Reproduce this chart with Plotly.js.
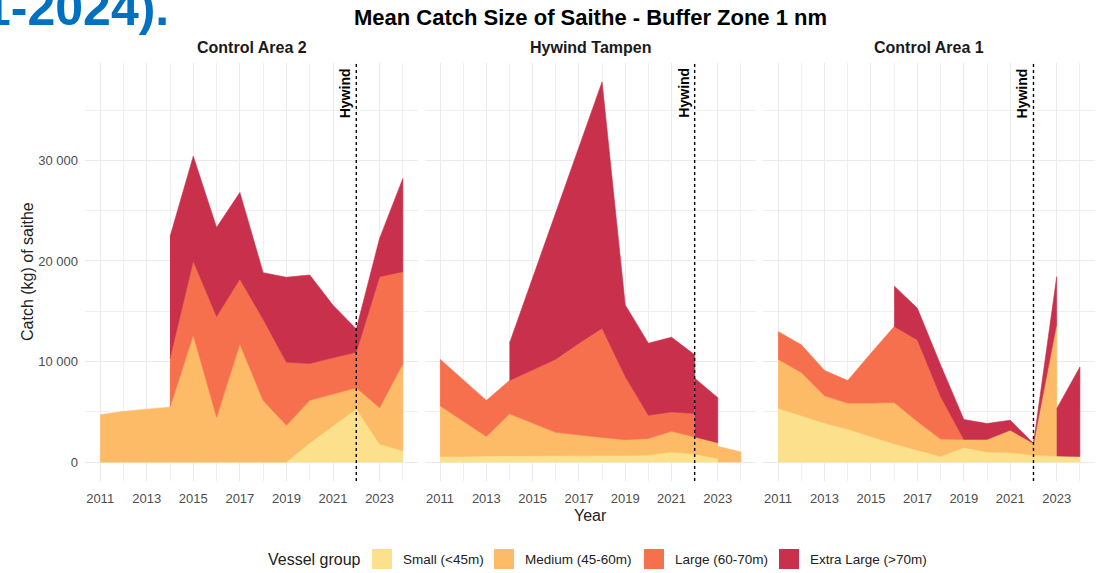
<!DOCTYPE html>
<html>
<head>
<meta charset="utf-8">
<script src="https://cdn.plot.ly/plotly-3.0.1.min.js"></script>
<style>
  html, body { margin: 0; padding: 0; background: #ffffff; }
  #chart { width: 1102px; height: 573px; }
</style>
</head>
<body>
<div id="chart"></div>
<script>
// ---------------- DATA ----------------
const years = [2011, 2012, 2013, 2014, 2015, 2016, 2017, 2018, 2019, 2020, 2021, 2022, 2023, 2024];
const panelNames = ["Control Area 2", "Hywind Tampen", "Control Area 1"];
const groupNames = ["Small (<45m)", "Medium (45-60m)", "Large (60-70m)", "Extra Large (>70m)"];
const groupColors = ["#FDE08C", "#FDBA67", "#F6704E", "#C8304B"];

// Control Area 2
const ca2Small  = [0, 0, 0, 0, 0, 0, 0, 0, 0, 1900, 3650, 5310, 1780, 1120];
const ca2Medium = [4700, 5030, 5260, 5460, 12650, 4470, 11750, 6130, 3660, 4240, 3150, 2080, 3630, 8650];
const ca2Large  = [null, null, null, 4870, 7350, 10000, 6460, 8070, 6270, 3660, 3570, 3530, 13030, 9170];
const ca2XL     = [null, null, null, 12090, 10430, 8870, 8610, 4640, 8450, 8810, 5230, 2310, 3810, 9270];

// Hywind Tampen
const htSmall  = [560, 560, 600, 600, 600, 600, 600, 650, 650, 700, 1000, 800, 350, null];
const htMedium = [5040, 3480, 1950, 4200, 3270, 2350, 2120, 1800, 1570, 1650, 2050, 1700, 1560, 1000];
const htLarge  = [4630, 4140, 3580, 3310, 5300, 7280, 9100, 10860, 6290, 2300, 1930, 2320, null, null];
const htXL     = [null, null, null, 3710, 9110, 14540, 19410, 24510, 7120, 7170, 7440, 5840, 4490, null];

// Control Area 1
const ca1Small  = [5360, 4600, 3870, 3280, 2550, 1820, 1160, 560, 1450, 1000, 950, 700, 600, 550];
const ca1Medium = [4870, 4310, 2720, 2580, 3310, 4110, 2880, 1720, 800, 1250, 2220, 1150, 13130, null];
const ca1Large  = [2750, 2750, 2520, 2250, 4970, 7550, 8110, 4240, 0, null, null, null, null, null];
const ca1XL     = [null, null, null, null, null, 4040, 3150, 3120, 1980, 1580, 990, 0, 4700, 8900];

const hywindYear = 2022;
const xTickVals = [2011, 2013, 2015, 2017, 2019, 2021, 2023];
const xTickText = ["2011", "2013", "2015", "2017", "2019", "2021", "2023"];
const yTickVals = [0, 10000, 20000, 30000];
const yTickText = ["0", "10 000", "20 000", "30 000"];

const panels = [
  [ca2Small, ca2Medium, ca2Large, ca2XL],
  [htSmall, htMedium, htLarge, htXL],
  [ca1Small, ca1Medium, ca1Large, ca1XL]
];

// ---------------- LAYOUT HELPERS ----------------
const W = 1102, H = 573;
const px = v => v / W;
const py = v => 1 - v / H;
const FONT = "Liberation Sans, Arial, Helvetica, sans-serif";
const panelPx = [[85, 418], [425, 756], [763, 1095]];
const plotTop = 63, plotBottom = 481;

// stacked polygons: a group's base at an interval only counts lower groups present at both ends
function polygonsFor(groups, gi) {
  const v = groups[gi];
  const polys = [];
  let cur = null;
  const n = years.length;
  function flush() {
    if (cur) { polys.push(cur); cur = null; }
  }
  for (let i = 0; i < n - 1; i++) {
    if (v[i] == null || v[i + 1] == null) { flush(); continue; }
    let b0 = 0, b1 = 0;
    for (let h = 0; h < gi; h++) {
      if (groups[h][i] != null && groups[h][i + 1] != null) {
        b0 += groups[h][i];
        b1 += groups[h][i + 1];
      }
    }
    const t0 = b0 + v[i], t1 = b1 + v[i + 1];
    if (cur && cur.last === i && Math.abs(cur.lb - b0) < 1e-6 && Math.abs(cur.lt - t0) < 1e-6) {
      cur.x.push(years[i + 1]); cur.top.push(t1); cur.bot.push(b1);
    } else {
      flush();
      cur = { x: [years[i], years[i + 1]], top: [t0, t1], bot: [b0, b1] };
    }
    cur.last = i + 1; cur.lb = b1; cur.lt = t1;
  }
  flush();
  return polys;
}

const traces = [];
panels.forEach((groups, p) => {
  const xa = p === 0 ? "x" : "x" + (p + 1);
  const ya = p === 0 ? "y" : "y" + (p + 1);
  groups.forEach((g, gi) => {
    polygonsFor(groups, gi).forEach(poly => {
      const xs = poly.x.concat(poly.x.slice().reverse());
      const ys = poly.top.concat(poly.bot.slice().reverse());
      traces.push({
        type: "scatter", mode: "lines", x: xs, y: ys,
        xaxis: xa, yaxis: ya, fill: "toself",
        fillcolor: groupColors[gi],
        line: { color: groupColors[gi], width: 0.6 },
        hoverinfo: "skip", showlegend: false
      });
    });
  });
});

const gridMajor = "#EBEBEB";
const gridMinor = "#F0F0F0";

function xAxis(p) {
  return {
    domain: [px(panelPx[p][0]), px(panelPx[p][1])],
    range: [2010.35, 2024.65],
    anchor: p === 0 ? "y" : "y" + (p + 1),
    tickmode: "array", tickvals: xTickVals, ticktext: xTickText,
    showgrid: true, gridcolor: gridMajor, gridwidth: 1,
    minor: { tickmode: "linear", tick0: 2011, dtick: 1, showgrid: true, gridcolor: gridMinor, gridwidth: 1, ticks: "" },
    zeroline: false, showline: false, ticks: "",
    ticklabelstandoff: 8,
    tickfont: { family: FONT, size: 13, color: "#4D4D4D" },
    automargin: false, fixedrange: true
  };
}
function yAxis(p) {
  return {
    domain: [py(plotBottom), py(plotTop)],
    range: [-1890, 39700],
    anchor: p === 0 ? "x" : "x" + (p + 1),
    tickmode: "array", tickvals: yTickVals, ticktext: yTickText,
    showticklabels: p === 0,
    showgrid: true, gridcolor: gridMajor, gridwidth: 1,
    minor: { tickmode: "linear", tick0: 0, dtick: 5000, showgrid: true, gridcolor: gridMinor, gridwidth: 1, ticks: "" },
    zeroline: false, showline: false, ticks: "",
    ticklabelstandoff: 6,
    tickfont: { family: FONT, size: 13, color: "#4D4D4D" },
    automargin: false, fixedrange: true
  };
}

const annotations = [];
const shapes = [];

// heading fragment at top-left (cut off at the left edge, as in the source image)
annotations.push({
  text: "<b>1-2024).</b>", xref: "paper", yref: "paper",
  x: px(171), y: py(8), xanchor: "right", yanchor: "middle", showarrow: false,
  font: { family: FONT, size: 50, color: "#0070C0" }
});
// main title
annotations.push({
  text: "<b>Mean Catch Size of Saithe - Buffer Zone 1 nm</b>", xref: "paper", yref: "paper",
  x: px(590), y: py(17), xanchor: "center", yanchor: "middle", showarrow: false,
  font: { family: FONT, size: 22, color: "#000000" }
});
// facet titles, Hywind markers
panelNames.forEach((name, p) => {
  annotations.push({
    text: "<b>" + name + "</b>", xref: "paper", yref: "paper",
    x: px((panelPx[p][0] + panelPx[p][1]) / 2), y: py(48), xanchor: "center", yanchor: "middle",
    showarrow: false, font: { family: FONT, size: 16, color: "#1A1A1A" }
  });
  const xr = p === 0 ? "x" : "x" + (p + 1);
  shapes.push({
    type: "line", xref: xr, yref: "paper", x0: hywindYear, x1: hywindYear,
    y0: py(plotBottom), y1: py(plotTop),
    line: { color: "#000000", width: 1.4, dash: "3px,3px" }
  });
  annotations.push({
    text: "<b>Hywind</b>", xref: xr, yref: "paper", x: hywindYear, y: py(plotTop + 3),
    xanchor: "right", yanchor: "top", textangle: -90, showarrow: false, xshift: -1,
    font: { family: FONT, size: 14, color: "#000000" }
  });
});
// axis titles
annotations.push({
  text: "Year", xref: "paper", yref: "paper", x: px(590), y: py(515),
  xanchor: "center", yanchor: "middle", showarrow: false,
  font: { family: FONT, size: 16, color: "#222222" }
});
annotations.push({
  text: "Catch (kg) of saithe", xref: "paper", yref: "paper", x: px(27), y: py(272),
  xanchor: "center", yanchor: "middle", textangle: -90, showarrow: false,
  font: { family: FONT, size: 16, color: "#222222" }
});
// legend
annotations.push({
  text: "Vessel group", xref: "paper", yref: "paper", x: px(266), y: py(559),
  xanchor: "left", yanchor: "middle", showarrow: false,
  font: { family: FONT, size: 16, color: "#222222" }
});
const keyLeft = [372, 494, 644, 779];
groupNames.forEach((name, gi) => {
  shapes.push({
    type: "rect", xref: "paper", yref: "paper",
    x0: px(keyLeft[gi]), x1: px(keyLeft[gi] + 20), y0: py(569), y1: py(549),
    fillcolor: groupColors[gi], line: { width: 0 }
  });
  annotations.push({
    text: name, xref: "paper", yref: "paper", x: px(keyLeft[gi] + 29), y: py(559),
    xanchor: "left", yanchor: "middle", showarrow: false,
    font: { family: FONT, size: 13.5, color: "#222222" }
  });
});

const layout = {
  width: W, height: H,
  margin: { l: 0, r: 0, t: 0, b: 0 },
  paper_bgcolor: "#FFFFFF", plot_bgcolor: "rgba(0,0,0,0)",
  showlegend: false,
  xaxis: xAxis(0), xaxis2: xAxis(1), xaxis3: xAxis(2),
  yaxis: yAxis(0), yaxis2: yAxis(1), yaxis3: yAxis(2),
  annotations: annotations,
  shapes: shapes
};

Plotly.newPlot("chart", traces, layout, { displayModeBar: false, staticPlot: true });
</script>
</body>
</html>
